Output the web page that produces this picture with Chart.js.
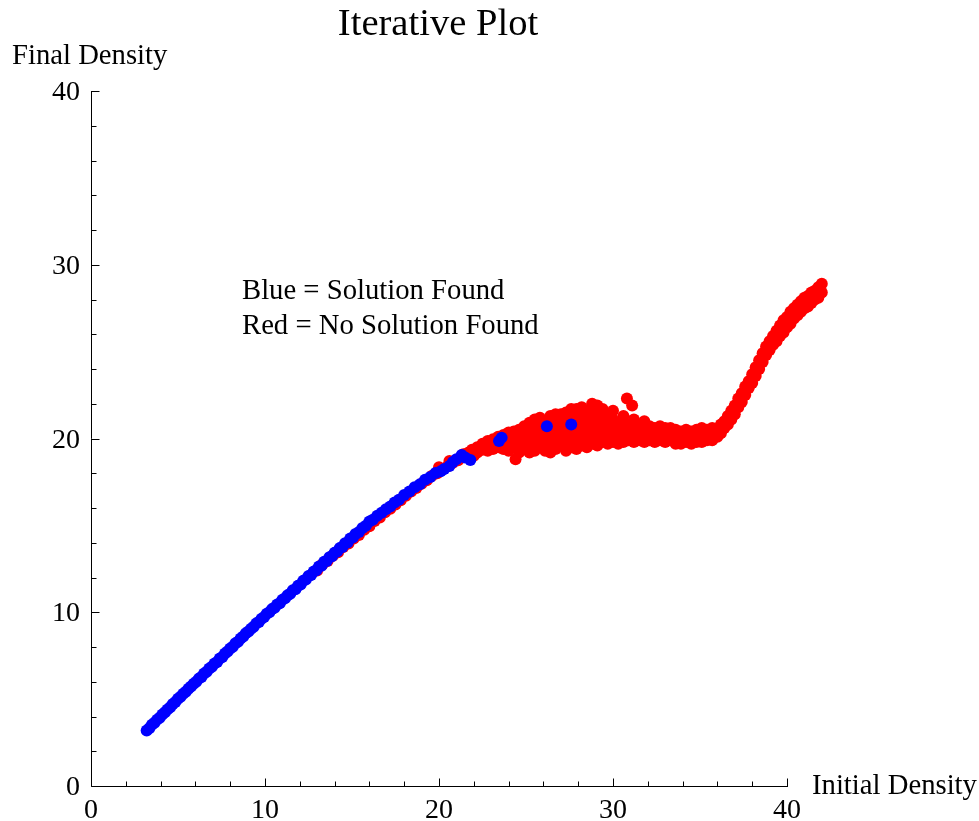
<!DOCTYPE html>
<html>
<head>
<meta charset="utf-8">
<title>Iterative Plot</title>
<script src="https://cdn.jsdelivr.net/npm/chart.js@4.4.1/dist/chart.umd.min.js"></script>
<style>
  html, body { margin: 0; padding: 0; background: #fff; }
  canvas { display: block; }
</style>
</head>
<body>
<canvas id="plot" width="979" height="821"></canvas>
<script>
// tick labels / tick positions
const majorTicks = [0, 10, 20, 30, 40];
const minorTicks = [2, 4, 6, 8, 12, 14, 16, 18, 22, 24, 26, 28, 32, 34, 36, 38];

// Blue = solution found  [initial density, final density]
const bluePoints = [
  [3.20, 3.20], [3.35, 3.33], [3.50, 3.52], [3.65, 3.64], [3.80, 3.82], [3.95, 3.93], [4.10, 4.12], [4.25, 4.24],
  [4.40, 4.41], [4.55, 4.53], [4.70, 4.72], [4.85, 4.84], [5.00, 5.02], [5.15, 5.13], [5.30, 5.31], [5.45, 5.42],
  [5.60, 5.60], [5.75, 5.72], [5.90, 5.89], [6.05, 6.00], [6.20, 6.18], [6.35, 6.28], [6.50, 6.47], [6.65, 6.57],
  [6.80, 6.76], [6.95, 6.86], [7.10, 7.05], [7.25, 7.14], [7.40, 7.34], [7.55, 7.43], [7.70, 7.62], [7.85, 7.74],
  [8.00, 7.92], [8.15, 8.02], [8.30, 8.21], [8.45, 8.30], [8.60, 8.49], [8.75, 8.60], [8.90, 8.79], [9.05, 8.89],
  [9.20, 9.05], [9.35, 9.17], [9.50, 9.36], [9.65, 9.44], [9.80, 9.63], [9.95, 9.72], [10.10, 9.92], [10.25, 10.00],
  [10.40, 10.18], [10.55, 10.26], [10.70, 10.45], [10.85, 10.52], [11.00, 10.72], [11.15, 10.80], [11.30, 10.98],
  [11.45, 11.07], [11.60, 11.26], [11.75, 11.33], [11.90, 11.52], [12.05, 11.60], [12.20, 11.81], [12.35, 11.88],
  [12.50, 12.08], [12.65, 12.14], [12.80, 12.35], [12.95, 12.42], [13.10, 12.63], [13.25, 12.68], [13.40, 12.90],
  [13.55, 12.95], [13.70, 13.17], [13.85, 13.22], [14.00, 13.43], [14.15, 13.50], [14.30, 13.70], [14.45, 13.76],
  [14.60, 13.97], [14.75, 14.02], [14.90, 14.24], [15.05, 14.30], [15.20, 14.50], [15.40, 14.62], [15.60, 14.85],
  [15.80, 14.98], [16.00, 15.22], [16.20, 15.33], [16.45, 15.55], [16.70, 15.72], [16.95, 15.93], [17.20, 16.08],
  [17.45, 16.32], [17.70, 16.48], [18.00, 16.75], [18.30, 16.95], [18.60, 17.20], [18.90, 17.36], [19.20, 17.62],
  [19.50, 17.78], [19.80, 18.02], [20.10, 18.12], [20.30, 18.25], [20.60, 18.42], [20.80, 18.65], [21.00, 18.80],
  [21.30, 19.05], [21.50, 18.90], [21.80, 18.76], [23.45, 19.85], [23.60, 20.05], [26.20, 20.70], [27.60, 20.80]
];

// Red = no solution found, along the line (mostly hidden behind blue)
const redLine = [
  [13.0, 12.40], [13.3, 12.75], [13.6, 12.95], [13.9, 13.25], [14.2, 13.45], [14.5, 13.75], [14.8, 13.95],
  [15.1, 14.25], [15.4, 14.45], [15.7, 14.75], [16.0, 14.95], [16.3, 15.25], [16.6, 15.45], [16.9, 15.75],
  [17.2, 15.95], [17.5, 16.20], [17.8, 16.45], [18.1, 16.70], [18.4, 16.95], [18.7, 17.15], [19.0, 17.40],
  [19.3, 17.60], [19.6, 17.85], [19.9, 18.00], [20.2, 18.25], [20.5, 18.40], [20.8, 18.60], [21.1, 18.75],
  [21.4, 19.10], [21.7, 19.20], [22.0, 19.00], [20.0, 18.35], [20.6, 18.70], [21.9, 19.35]
];

// Red cloud on the plateau
const redCloud = [
  [22.2, 19.2], [22.2, 19.5], [22.5, 19.35], [22.5, 19.7], [22.8, 19.5], [22.8, 19.85], [22.8, 19.3],
  [23.1, 19.6], [23.1, 19.95], [23.1, 19.4], [23.4, 19.5], [23.4, 20.1], [23.4, 19.8], [23.7, 19.7], [23.7, 20.2],
  [23.7, 19.4], [24.0, 19.6], [24.0, 20.0], [24.0, 20.35], [24.0, 19.3], [24.3, 19.8], [24.3, 20.4], [24.3, 19.5],
  [24.4, 18.8], [24.6, 19.6], [24.6, 20.1], [24.6, 20.5], [24.6, 19.2], [24.9, 19.4], [24.9, 19.9], [24.9, 20.3],
  [24.9, 20.7], [25.2, 19.5], [25.2, 20.0], [25.2, 20.5], [25.2, 20.9], [25.2, 19.2], [25.5, 19.3], [25.5, 19.7],
  [25.5, 20.2], [25.5, 20.7], [25.5, 21.1], [25.8, 19.5], [25.8, 19.9], [25.8, 20.4], [25.8, 20.9], [25.8, 21.2],
  [26.1, 19.3], [26.1, 19.8], [26.1, 20.2], [26.1, 20.6], [26.1, 21.0], [26.4, 19.6], [26.4, 20.0], [26.4, 20.4],
  [26.4, 20.9], [26.4, 21.3], [26.4, 19.2], [26.7, 19.4], [26.7, 19.9], [26.7, 20.3], [26.7, 20.7], [26.7, 21.1],
  [26.7, 21.4], [27.0, 19.6], [27.0, 20.1], [27.0, 20.5], [27.0, 20.9], [27.0, 21.4], [27.3, 19.3], [27.3, 19.8],
  [27.3, 20.2], [27.3, 20.6], [27.3, 21.1], [27.3, 21.5], [27.6, 19.5], [27.6, 20.0], [27.6, 20.4], [27.6, 21.3],
  [27.6, 21.7], [27.9, 19.4], [27.9, 19.8], [27.9, 20.3], [27.9, 20.7], [27.9, 21.2], [27.9, 21.7], [28.2, 19.6],
  [28.2, 20.0], [28.2, 20.5], [28.2, 20.9], [28.2, 21.4], [28.2, 21.8], [28.5, 19.5], [28.5, 19.9], [28.5, 20.3],
  [28.5, 20.8], [28.5, 21.2], [28.5, 21.6], [28.8, 19.7], [28.8, 20.1], [28.8, 20.6], [28.8, 21.0], [28.8, 21.5],
  [28.8, 22.0], [29.1, 19.6], [29.1, 20.0], [29.1, 20.4], [29.1, 20.9], [29.1, 21.3], [29.1, 21.9], [29.4, 19.8],
  [29.4, 20.2], [29.4, 20.7], [29.4, 21.1], [29.4, 21.7], [29.7, 19.7], [29.7, 20.1], [29.7, 20.5], [29.7, 20.9],
  [29.7, 21.4], [30.0, 19.8], [30.0, 20.2], [30.0, 20.6], [30.0, 21.1], [30.0, 21.6], [30.3, 19.7], [30.3, 20.1],
  [30.3, 20.5], [30.3, 20.9], [30.6, 19.8], [30.6, 20.2], [30.6, 20.6], [30.6, 21.3], [30.8, 22.3], [31.1, 21.9],
  [30.9, 19.9], [30.9, 20.3], [30.9, 20.8], [31.2, 19.8], [31.2, 20.2], [31.2, 20.6], [31.2, 21.1], [31.5, 19.9],
  [31.5, 20.3], [31.5, 20.7], [31.8, 19.8], [31.8, 20.2], [31.8, 20.6], [31.8, 21.0], [32.1, 19.9], [32.1, 20.3],
  [32.1, 20.7], [32.4, 19.8], [32.4, 20.2], [32.4, 20.6], [32.7, 19.9], [32.7, 20.3], [32.7, 20.7], [33.0, 19.8],
  [33.0, 20.2], [33.0, 20.6], [33.3, 19.9], [33.3, 20.3], [33.3, 20.6], [33.6, 19.7], [33.6, 20.1], [33.6, 20.5],
  [33.9, 19.7], [33.9, 20.0], [33.9, 20.4], [34.2, 19.8], [34.2, 20.2], [34.2, 20.5], [34.5, 19.7], [34.5, 20.0],
  [34.5, 20.4], [34.8, 19.8], [34.8, 20.1], [34.8, 20.5], [35.1, 19.8], [35.1, 20.2], [35.1, 20.6], [35.4, 19.9],
  [35.4, 20.2], [35.4, 20.5], [35.7, 19.9], [35.7, 20.3], [35.7, 20.6]
];

// Red rising branch beyond 36
const redRise = [
  [36.0, 20.1], [36.0, 20.5], [36.2, 20.3], [36.2, 20.8], [36.4, 20.6], [36.4, 21.0], [36.6, 20.8], [36.6, 21.3],
  [36.8, 21.1], [36.8, 21.6], [37.0, 21.4], [37.0, 21.9], [37.2, 21.8], [37.2, 22.3], [37.4, 22.1], [37.4, 22.6],
  [37.6, 22.5], [37.6, 23.0], [37.8, 22.9], [37.8, 23.3], [38.0, 23.2], [38.0, 23.7], [38.2, 23.6], [38.2, 24.1],
  [38.4, 24.0], [38.4, 24.5], [38.6, 24.4], [38.6, 24.9], [38.8, 24.8], [38.8, 25.3], [39.0, 25.1], [39.0, 25.6],
  [39.2, 25.4], [39.2, 25.9], [39.4, 25.6], [39.4, 26.2], [39.6, 25.9], [39.6, 26.5], [39.8, 26.1], [39.8, 26.8],
  [40.0, 26.4], [40.0, 27.0], [40.2, 26.6], [40.2, 27.3], [40.2, 26.9], [40.4, 26.9], [40.4, 27.5], [40.4, 27.2],
  [40.6, 27.1], [40.6, 27.7], [40.6, 27.4], [40.8, 27.3], [40.8, 27.9], [40.8, 27.6], [41.0, 27.5], [41.0, 28.1],
  [41.0, 27.8], [41.2, 27.6], [41.2, 28.2], [41.4, 27.8], [41.4, 28.4], [41.6, 28.0], [41.6, 28.5], [41.8, 28.1],
  [41.8, 28.7], [42.0, 28.4], [42.0, 28.9]
];

const toPoints = (pairs) => pairs.map((p) => ({ x: p[0], y: p[1] }));

const serif = "'Liberation Serif', 'Times New Roman', serif";

// Mathematica style axes: inward ticks, axis lines ending at 40
const axesPlugin = {
  id: "mmaAxes",
  beforeDatasetsDraw(chart) {
    const ctx = chart.ctx;
    const xs = chart.scales.x;
    const ys = chart.scales.y;
    const x0 = Math.round(xs.getPixelForValue(0)) + 0.5;
    const y0 = Math.round(ys.getPixelForValue(0)) + 0.5;
    ctx.save();
    ctx.strokeStyle = "#000";
    ctx.lineWidth = 1;
    ctx.beginPath();
    ctx.moveTo(x0, Math.round(ys.getPixelForValue(40)));
    ctx.lineTo(x0, y0);
    ctx.lineTo(Math.round(xs.getPixelForValue(40)) + 1, y0);
    majorTicks.forEach((t) => {
      const px = Math.round(xs.getPixelForValue(t)) + 0.5;
      ctx.moveTo(px, y0);
      ctx.lineTo(px, y0 - 8);
      const py = Math.round(ys.getPixelForValue(t)) + 0.5;
      ctx.moveTo(x0, py);
      ctx.lineTo(x0 + 8, py);
    });
    minorTicks.forEach((t) => {
      const px = Math.round(xs.getPixelForValue(t)) + 0.5;
      ctx.moveTo(px, y0);
      ctx.lineTo(px, y0 - 5);
      const py = Math.round(ys.getPixelForValue(t)) + 0.5;
      ctx.moveTo(x0, py);
      ctx.lineTo(x0 + 5, py);
    });
    ctx.stroke();
    ctx.restore();
  },
  afterDraw(chart) {
    const ctx = chart.ctx;
    const xs = chart.scales.x;
    const ys = chart.scales.y;
    const x0 = xs.getPixelForValue(0);
    const y0 = ys.getPixelForValue(0);
    ctx.save();
    ctx.fillStyle = "#000";
    ctx.textBaseline = "alphabetic";
    ctx.font = "28px " + serif;
    ctx.textAlign = "center";
    majorTicks.forEach((t) => {
      ctx.fillText(String(t), xs.getPixelForValue(t), y0 + 32);
    });
    ctx.textAlign = "right";
    majorTicks.forEach((t) => {
      ctx.fillText(String(t), x0 - 11, ys.getPixelForValue(t) + 9);
    });
    ctx.textAlign = "left";
    ctx.font = "28.7px " + serif;
    ctx.fillText("Final Density", 12, 64);
    ctx.fillText("Initial Density", 812, y0 + 8);
    ctx.fillText("Blue = Solution Found", 242, 299);
    ctx.fillText("Red = No Solution Found", 242, 334);
    ctx.textAlign = "center";
    ctx.font = "38.6px " + serif;
    ctx.fillText("Iterative Plot", 438, 35);
    ctx.restore();
  }
};

// x scale runs to 44 so the points past 40 stay inside the chart area
new Chart(document.getElementById("plot"), {
  type: "scatter",
  data: {
    datasets: [
      {
        label: "Solution Found",
        data: toPoints(bluePoints),
        backgroundColor: "rgb(0, 0, 255)",
        borderWidth: 0,
        pointRadius: 6
      },
      {
        label: "No Solution Found",
        data: toPoints(redLine.concat(redCloud, redRise)),
        backgroundColor: "rgb(255, 0, 0)",
        borderWidth: 0,
        pointRadius: 6
      }
    ]
  },
  options: {
    responsive: false,
    animation: false,
    events: [],
    layout: { padding: { left: 91, right: 122.4, top: 91, bottom: 35 } },
    plugins: {
      legend: { display: false },
      tooltip: { enabled: false }
    },
    scales: {
      x: { type: "linear", min: 0, max: 44, display: false },
      y: { type: "linear", min: 0, max: 40, display: false }
    }
  },
  plugins: [axesPlugin]
});
</script>
</body>
</html>
